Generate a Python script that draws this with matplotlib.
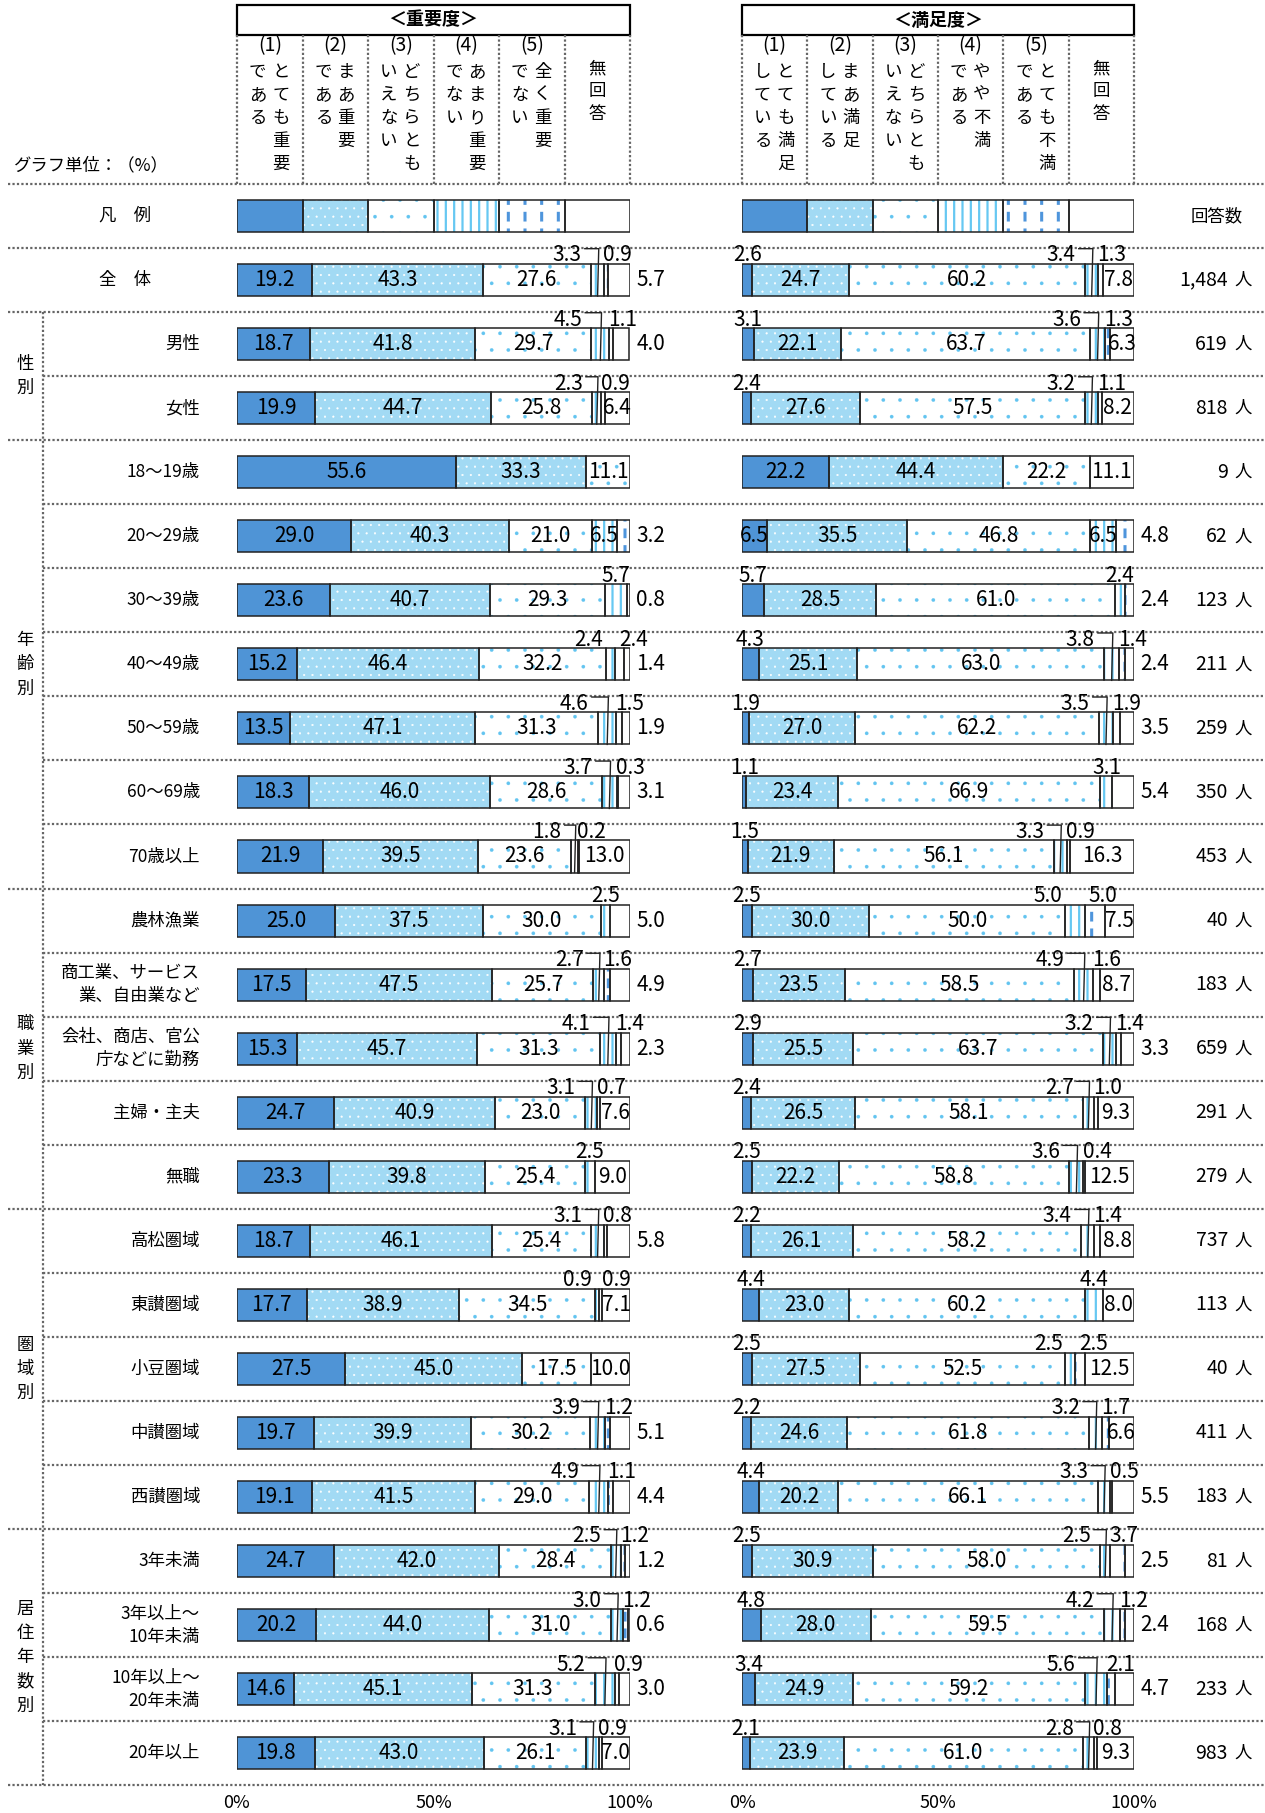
import numpy as np
import matplotlib.pyplot as plt
from matplotlib.patches import Rectangle
from matplotlib.transforms import blended_transform_factory

plt.rcParams['font.family'] = ['Noto Sans CJK JP', 'DejaVu Sans']
NUM = ['Liberation Sans Narrow', 'Noto Sans CJK JP', 'DejaVu Sans']

# ---- data -------------------------------------------------------------
row_labels = ['全　体', '男性', '女性',
              '18～19歳', '20～29歳', '30～39歳', '40～49歳', '50～59歳', '60～69歳', '70歳以上',
              '農林漁業', '商工業、サービス\n業、自由業など', '会社、商店、官公\n庁などに勤務',
              '主婦・主夫', '無職',
              '高松圏域', '東讃圏域', '小豆圏域', '中讃圏域', '西讃圏域',
              '3年未満', '3年以上～\n10年未満', '10年以上～\n20年未満', '20年以上']
counts = ['1,484', '619', '818', '9', '62', '123', '211', '259', '350', '453',
          '40', '183', '659', '291', '279', '737', '113', '40', '411', '183',
          '81', '168', '233', '983']
groups = [('性別', 2, 3), ('年齢別', 4, 10), ('職業別', 11, 15),
          ('圏域別', 16, 20), ('居住年数別', 21, 24)]

imp_1 = [19.2, 18.7, 19.9, 55.6, 29.0, 23.6, 15.2, 13.5, 18.3, 21.9, 25.0, 17.5,
         15.3, 24.7, 23.3, 18.7, 17.7, 27.5, 19.7, 19.1, 24.7, 20.2, 14.6, 19.8]
imp_2 = [43.3, 41.8, 44.7, 33.3, 40.3, 40.7, 46.4, 47.1, 46.0, 39.5, 37.5, 47.5,
         45.7, 40.9, 39.8, 46.1, 38.9, 45.0, 39.9, 41.5, 42.0, 44.0, 45.1, 43.0]
imp_3 = [27.6, 29.7, 25.8, 11.1, 21.0, 29.3, 32.2, 31.3, 28.6, 23.6, 30.0, 25.7,
         31.3, 23.0, 25.4, 25.4, 34.5, 17.5, 30.2, 29.0, 28.4, 31.0, 31.3, 26.1]
imp_4 = [3.3, 4.5, 2.3, 0, 6.5, 5.7, 2.4, 4.6, 3.7, 1.8, 2.5, 2.7,
         4.1, 3.1, 2.5, 3.1, 0.9, 0, 3.9, 4.9, 2.5, 3.0, 5.2, 3.1]
imp_5 = [0.9, 1.1, 0.9, 0, 3.2, 0.8, 2.4, 1.5, 0.3, 0.2, 0, 1.6,
         1.4, 0.7, 0, 0.8, 0.9, 0, 1.2, 1.1, 1.2, 1.2, 0.9, 0.9]
imp_na = [5.7, 4.0, 6.4, 0, 0, 0, 1.4, 1.9, 3.1, 13.0, 5.0, 4.9,
          2.3, 7.6, 9.0, 5.8, 7.1, 10.0, 5.1, 4.4, 1.2, 0.6, 3.0, 7.0]

sat_1 = [2.6, 3.1, 2.4, 22.2, 6.5, 5.7, 4.3, 1.9, 1.1, 1.5, 2.5, 2.7,
         2.9, 2.4, 2.5, 2.2, 4.4, 2.5, 2.2, 4.4, 2.5, 4.8, 3.4, 2.1]
sat_2 = [24.7, 22.1, 27.6, 44.4, 35.5, 28.5, 25.1, 27.0, 23.4, 21.9, 30.0, 23.5,
         25.5, 26.5, 22.2, 26.1, 23.0, 27.5, 24.6, 20.2, 30.9, 28.0, 24.9, 23.9]
sat_3 = [60.2, 63.7, 57.5, 22.2, 46.8, 61.0, 63.0, 62.2, 66.9, 56.1, 50.0, 58.5,
         63.7, 58.1, 58.8, 58.2, 60.2, 52.5, 61.8, 66.1, 58.0, 59.5, 59.2, 61.0]
sat_4 = [3.4, 3.6, 3.2, 0, 6.5, 2.4, 3.8, 3.5, 3.1, 3.3, 5.0, 4.9,
         3.2, 2.7, 3.6, 3.4, 4.4, 2.5, 3.2, 3.3, 2.5, 4.2, 5.6, 2.8]
sat_5 = [1.3, 1.3, 1.1, 0, 4.8, 2.4, 1.4, 1.9, 0, 0.9, 5.0, 1.6,
         1.4, 1.0, 0.4, 1.4, 0, 2.5, 1.7, 0.5, 3.7, 1.2, 2.1, 0.8]
sat_na = [7.8, 6.3, 8.2, 11.1, 0, 0, 2.4, 3.5, 5.4, 16.3, 7.5, 8.7,
          3.3, 9.3, 12.5, 8.8, 8.0, 12.5, 6.6, 5.5, 2.5, 2.4, 4.7, 9.3]

imp_heads = [('(1)', 'とても重要', 'である'), ('(2)', 'まあ重要', 'である'),
             ('(3)', 'どちらとも', 'いえない'), ('(4)', 'あまり重要', 'でない'),
             ('(5)', '全く重要', 'でない'), ('', '無回答', '')]
sat_heads = [('(1)', 'とても満足', 'している'), ('(2)', 'まあ満足', 'している'),
             ('(3)', 'どちらとも', 'いえない'), ('(4)', 'やや不満', 'である'),
             ('(5)', 'とても不満', 'である'), ('', '無回答', '')]

# ---- layout (pixels) --------------------------------------------------
W, H = 1265, 1813
ROW0, ROW_H = 216, 64.05
L_X0, L_X1 = 237, 630
R_X0, R_X1 = 742, 1134
BAR_H = 0.5
DOT = dict(color='#666666', lw=1.6, linestyle=(0, (1, 1)))

# face colour + list of (hatch, hatch colour, hatch lw) overlays
STYLES = [('#4f94d6', []),
          ('#a2daf4', [('..', 'white', 0.3)]),
          ('white', [('.', '#62c4f0', 0.2)]),
          ('white', [('||', '#66c8f2', 1.6)]),
          ('white', [('|', '#4e95dc', 2.2), ('-', 'white', 5.0)]),
          ('white', [])]

fig = plt.figure(figsize=(W / 100, H / 100), dpi=100)
bg = fig.add_axes([0, 0, 1, 1])
bg.set_xlim(0, W)
bg.set_ylim(H, 0)
bg.axis('off')


def bar_axes(x0, x1):
    ax = fig.add_axes([x0 / W, 1 - (ROW0 + 24.5 * ROW_H) / H,
                       (x1 - x0) / W, 25 * ROW_H / H])
    ax.set_xlim(0, 100)
    ax.set_ylim(24.5, -0.5)
    ax.patch.set_visible(False)
    for sp in ax.spines.values():
        sp.set_visible(False)
    ax.set_yticks([])
    ax.set_xticks([0, 50, 100], ['0%', '50%', '100%'])
    ax.tick_params(axis='x', length=0, pad=6, labelsize=13)
    for t in ax.get_xticklabels():
        t.set_fontfamily(NUM)
    return ax


def draw_segments(ax, rows, widths, lefts, k):
    face, hatches = STYLES[k]
    ax.barh(rows, widths, left=lefts, height=BAR_H, color=face, linewidth=0, zorder=2)
    for hatch, hcol, hlw in hatches:
        with plt.rc_context({'hatch.linewidth': hlw}):
            ax.barh(rows, widths, left=lefts, height=BAR_H, facecolor='none',
                    edgecolor=hcol, hatch=hatch, linewidth=0, zorder=3)
    ax.barh(rows, widths, left=lefts, height=BAR_H, facecolor='none',
            edgecolor='#222222', linewidth=1.1, zorder=4)


def draw_panel(ax, cols):
    vals = np.array(cols).T                      # (24, 6)
    starts = np.cumsum(vals, axis=1) - vals
    rows = np.arange(1, len(vals) + 1)
    for k in range(6):
        m = vals[:, k] > 0
        draw_segments(ax, rows[m], vals[m, k], starts[m, k], k)
    # legend row
    for k in range(6):
        draw_segments(ax, [0], [100 / 6], [k * 100 / 6], k)

    fs = 15
    for i, (v, s) in enumerate(zip(vals, starts)):
        y = i + 1
        top = y - BAR_H / 2 - 0.04
        nz = [k for k in range(6) if v[k] > 0]
        last = nz[-1]
        above5 = 0 < v[4] < 6 and last != 4
        bracket = above5 and v[3] < 6 and v[3] != v[4]
        for k in nz:
            c = s[k] + v[k] / 2
            txt = f'{v[k]:.1f}'
            thr = 6.3 if k == 5 else 6
            kw = dict(fontsize=fs, family=NUM, clip_on=False, zorder=5)
            if v[k] >= thr:
                ax.text(c, y, txt, ha='center', va='center', **kw)
            elif k == last:
                ax.text(101.6, y, txt, ha='left', va='center', **kw)
            elif k == 3 and above5:
                if bracket:
                    xr = s[k] - 2.4
                    ax.text(xr, top, txt, ha='right', va='baseline', **kw)
                    yl = top - 0.2
                    ax.plot([xr + 0.8, c + 0.3, c], [yl, yl, y + BAR_H / 2],
                            color='#222222', lw=1.0, clip_on=False, zorder=6)
                else:
                    ax.text(s[k] - 0.7, top, txt, ha='right', va='baseline', **kw)
            elif k == 4:
                x = s[k] - 0.2 if bracket else s[k] + 1.0
                ax.text(x, top, txt, ha='left', va='baseline', **kw)
            else:
                ax.text(c, top, txt, ha='center', va='baseline', **kw)


axL = bar_axes(L_X0, L_X1)
axR = bar_axes(R_X0, R_X1)
draw_panel(axL, [imp_1, imp_2, imp_3, imp_4, imp_5, imp_na])
draw_panel(axR, [sat_1, sat_2, sat_3, sat_4, sat_5, sat_na])

# ---- separators and left labels --------------------------------------
tr = blended_transform_factory(bg.transData, axL.transData)
major = {-0.5, 0.5, 1.5, 3.5, 10.5, 15.5, 20.5, 24.5}
for i in range(-1, 25):
    yy = i + 0.5
    x0 = 8 if yy in major else 43
    bg.plot([x0, W], [yy, yy], transform=tr, **DOT)
bg.plot([43, 43], [1.5, 24.5], transform=tr, **DOT)

for name, a, b in groups:
    bg.text(25, (a + b) / 2, '\n'.join(name), transform=tr, ha='center',
            va='center', fontsize=12.5, linespacing=1.45)

bg.text(125, 0, '凡　例', transform=tr, ha='center', va='center', fontsize=12.5)
for i, lab in enumerate(row_labels):
    y = i + 1
    if i == 0:
        bg.text(125, y, lab, transform=tr, ha='center', va='center', fontsize=12.5)
    else:
        bg.text(200, y, lab, transform=tr, ha='right', va='center', fontsize=12.5,
                multialignment='right', linespacing=1.35)
    bg.text(1228, y, counts[i], transform=tr, ha='right', va='center',
            fontsize=14, family=NUM)
    bg.text(1243, y, '人', transform=tr, ha='center', va='center', fontsize=12.5)
bg.text(1217, 0, '回答数', transform=tr, ha='center', va='center', fontsize=12.5)

bg.text(14, 165, 'グラフ単位：（%）', ha='left', va='center', fontsize=12.5)


# ---- column headers --------------------------------------------------
def header(x0, x1, title, heads):
    bg.add_patch(Rectangle((x0, 5), x1 - x0, 30, facecolor='white',
                           edgecolor='black', lw=1.6))
    bg.text((x0 + x1) / 2, 20, title, ha='center', va='center', fontsize=13,
            fontweight='bold')
    cw = (x1 - x0) / 6
    for j in range(7):
        bg.plot([x0 + j * cw] * 2, [35, 184], **DOT)
    for j, (num, right, left) in enumerate(heads):
        cx = x0 + (j + 0.5) * cw
        if not num:
            for n, ch in enumerate(right):
                bg.text(cx, 68 + 23 * n, ch, ha='center', va='center', fontsize=12.5)
            continue
        bg.text(cx, 46, num, ha='center', va='center', fontsize=14, family=NUM)
        for n, ch in enumerate(right):
            bg.text(cx + 11, 72 + 23 * n, ch, ha='center', va='center', fontsize=12.5)
        for n, ch in enumerate(left):
            bg.text(cx - 12, 72 + 23 * n, ch, ha='center', va='center', fontsize=12.5)


header(L_X0, L_X1, '＜重要度＞', imp_heads)
header(R_X0, R_X1, '＜満足度＞', sat_heads)

fig.savefig('out.png', dpi=100)
